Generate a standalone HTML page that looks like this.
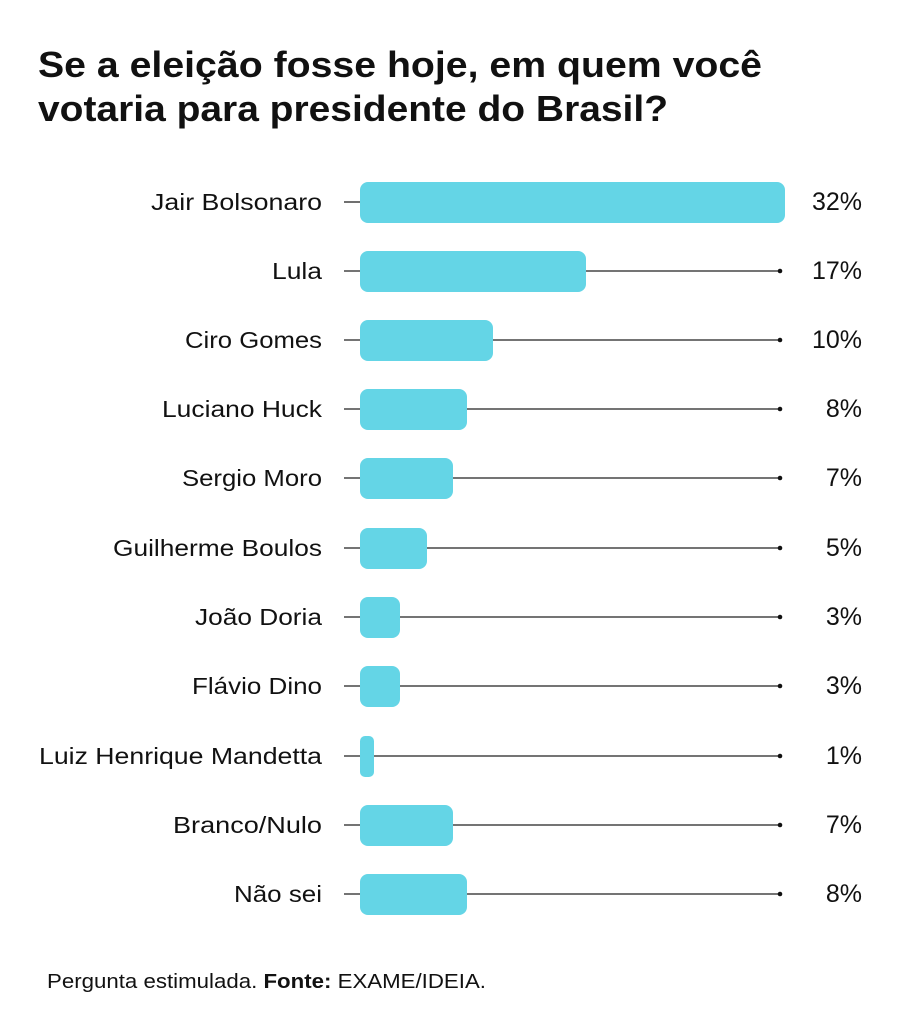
<!DOCTYPE html>
<html><head><meta charset="utf-8"><style>
html,body{margin:0;padding:0;background:#fff;}
svg{display:block;}
text{font-family:"Liberation Sans",sans-serif;fill:#111;}
</style></head><body>
<svg width="903" height="1024" viewBox="0 0 903 1024" xmlns="http://www.w3.org/2000/svg">
<rect width="903" height="1024" fill="#fff"/>
<text x="38" y="77" font-size="36" font-weight="bold" textLength="724" lengthAdjust="spacingAndGlyphs">Se a eleição fosse hoje, em quem você</text>
<text x="38" y="121" font-size="36" font-weight="bold" textLength="630" lengthAdjust="spacingAndGlyphs">votaria para presidente do Brasil?</text>
<g stroke="#222" stroke-width="1.3">
<line x1="344" y1="202" x2="360" y2="202"/>
<line x1="344" y1="271" x2="780" y2="271"/>
<line x1="344" y1="340" x2="780" y2="340"/>
<line x1="344" y1="409" x2="780" y2="409"/>
<line x1="344" y1="478" x2="780" y2="478"/>
<line x1="344" y1="548" x2="780" y2="548"/>
<line x1="344" y1="617" x2="780" y2="617"/>
<line x1="344" y1="686" x2="780" y2="686"/>
<line x1="344" y1="756" x2="780" y2="756"/>
<line x1="344" y1="825" x2="780" y2="825"/>
<line x1="344" y1="894" x2="780" y2="894"/>
</g>
<g fill="#111">
<circle cx="780" cy="271" r="2.3"/><circle cx="780" cy="340" r="2.3"/><circle cx="780" cy="409" r="2.3"/>
<circle cx="780" cy="478" r="2.3"/><circle cx="780" cy="548" r="2.3"/><circle cx="780" cy="617" r="2.3"/>
<circle cx="780" cy="686" r="2.3"/><circle cx="780" cy="756" r="2.3"/><circle cx="780" cy="825" r="2.3"/>
<circle cx="780" cy="894" r="2.3"/>
</g>
<g fill="#64d5e6">
<rect x="360" y="182" width="425" height="41" rx="8"/>
<rect x="360" y="251" width="226" height="41" rx="8"/>
<rect x="360" y="320" width="133" height="41" rx="8"/>
<rect x="360" y="389" width="107" height="41" rx="8"/>
<rect x="360" y="458" width="93" height="41" rx="8"/>
<rect x="360" y="528" width="67" height="41" rx="8"/>
<rect x="360" y="597" width="40" height="41" rx="8"/>
<rect x="360" y="666" width="40" height="41" rx="8"/>
<rect x="360" y="736" width="14" height="41" rx="5"/>
<rect x="360" y="805" width="93" height="41" rx="8"/>
<rect x="360" y="874" width="107" height="41" rx="8"/>
</g>
<g font-size="23">
<text x="151" y="210" textLength="171" lengthAdjust="spacingAndGlyphs">Jair Bolsonaro</text>
<text x="272" y="279" textLength="50" lengthAdjust="spacingAndGlyphs">Lula</text>
<text x="185" y="348" textLength="137" lengthAdjust="spacingAndGlyphs">Ciro Gomes</text>
<text x="162" y="417" textLength="160" lengthAdjust="spacingAndGlyphs">Luciano Huck</text>
<text x="182" y="486" textLength="140" lengthAdjust="spacingAndGlyphs">Sergio Moro</text>
<text x="113" y="556" textLength="209" lengthAdjust="spacingAndGlyphs">Guilherme Boulos</text>
<text x="195" y="625" textLength="127" lengthAdjust="spacingAndGlyphs">João Doria</text>
<text x="192" y="694" textLength="130" lengthAdjust="spacingAndGlyphs">Flávio Dino</text>
<text x="39" y="764" textLength="283" lengthAdjust="spacingAndGlyphs">Luiz Henrique Mandetta</text>
<text x="173" y="833" textLength="149" lengthAdjust="spacingAndGlyphs">Branco/Nulo</text>
<text x="234" y="902" textLength="88" lengthAdjust="spacingAndGlyphs">Não sei</text>
</g>
<g font-size="25" text-anchor="end">
<text x="862" y="210">32%</text>
<text x="862" y="279">17%</text>
<text x="862" y="348">10%</text>
<text x="862" y="417">8%</text>
<text x="862" y="486">7%</text>
<text x="862" y="556">5%</text>
<text x="862" y="625">3%</text>
<text x="862" y="694">3%</text>
<text x="862" y="764">1%</text>
<text x="862" y="833">7%</text>
<text x="862" y="902">8%</text>
</g>
<text x="47" y="988" font-size="20" fill="#222" textLength="439" lengthAdjust="spacingAndGlyphs">Pergunta estimulada. <tspan font-weight="bold">Fonte:</tspan> EXAME/IDEIA.</text>
</svg>
</body></html>
